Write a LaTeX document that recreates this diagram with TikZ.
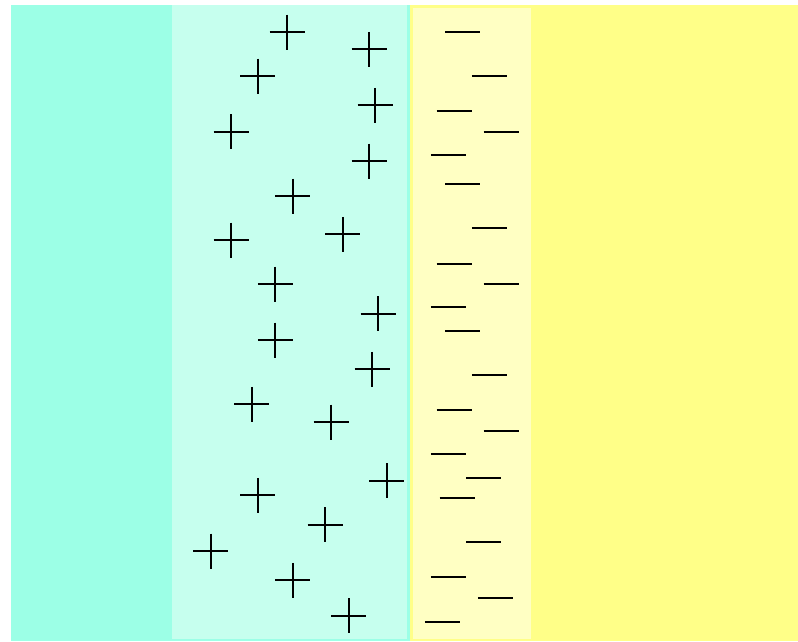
\documentclass[tikz,border=0pt]{standalone}
\definecolor{tealA}{RGB}{156,255,230}
\definecolor{tealB}{RGB}{198,255,238}
\definecolor{yelA}{RGB}{255,255,136}
\definecolor{yelB}{RGB}{255,255,195}
\tikzset{sign/.style={line width=2.2pt,black}}
\begin{document}
\begin{tikzpicture}[x=1pt,y=-1pt]
\useasboundingbox (0,0) rectangle (798,641);
\fill[white] (0,0) rectangle (798,641);
\fill[tealA] (11,5) rectangle (410,641);
\fill[yelA] (410,5) rectangle (798,641);
\fill[tealB] (172,5) rectangle (407,639);
\fill[yelB] (413,8) rectangle (531,639);
\foreach \x/\y in {287/32,369/49.3,257.7/76,375/105.3,231/131.7,369/161,292.7/196,
  231/240,342.7/234.3,275.3/284,378/313.7,275.3/340,372/369.3,251.7/404.3,331/422,
  386.7/480.7,257.7/495.3,325/524.7,210.7/551,292.7/580.3,348.7/615.7}
  \draw[sign] (\x-17.5,\y) -- (\x+17.5,\y) (\x,\y-17.5) -- (\x,\y+17.5);
\foreach \x/\y in {462.7/32,489.3/76,454/111,501/131.7,448.3/155,462.7/184.3,489.3/228.3,
  454/263.7,501/284,448.3/307.3,462.7/331,489.3/375,454/410,501/430.7,448.3/454.3,
  483.7/477.7,457/498.3,483.7/542.3,448.3/577.3,495.3/598,442.3/621.7}
  \draw[sign] (\x-17.5,\y) -- (\x+17.5,\y);
\end{tikzpicture}
\end{document}
